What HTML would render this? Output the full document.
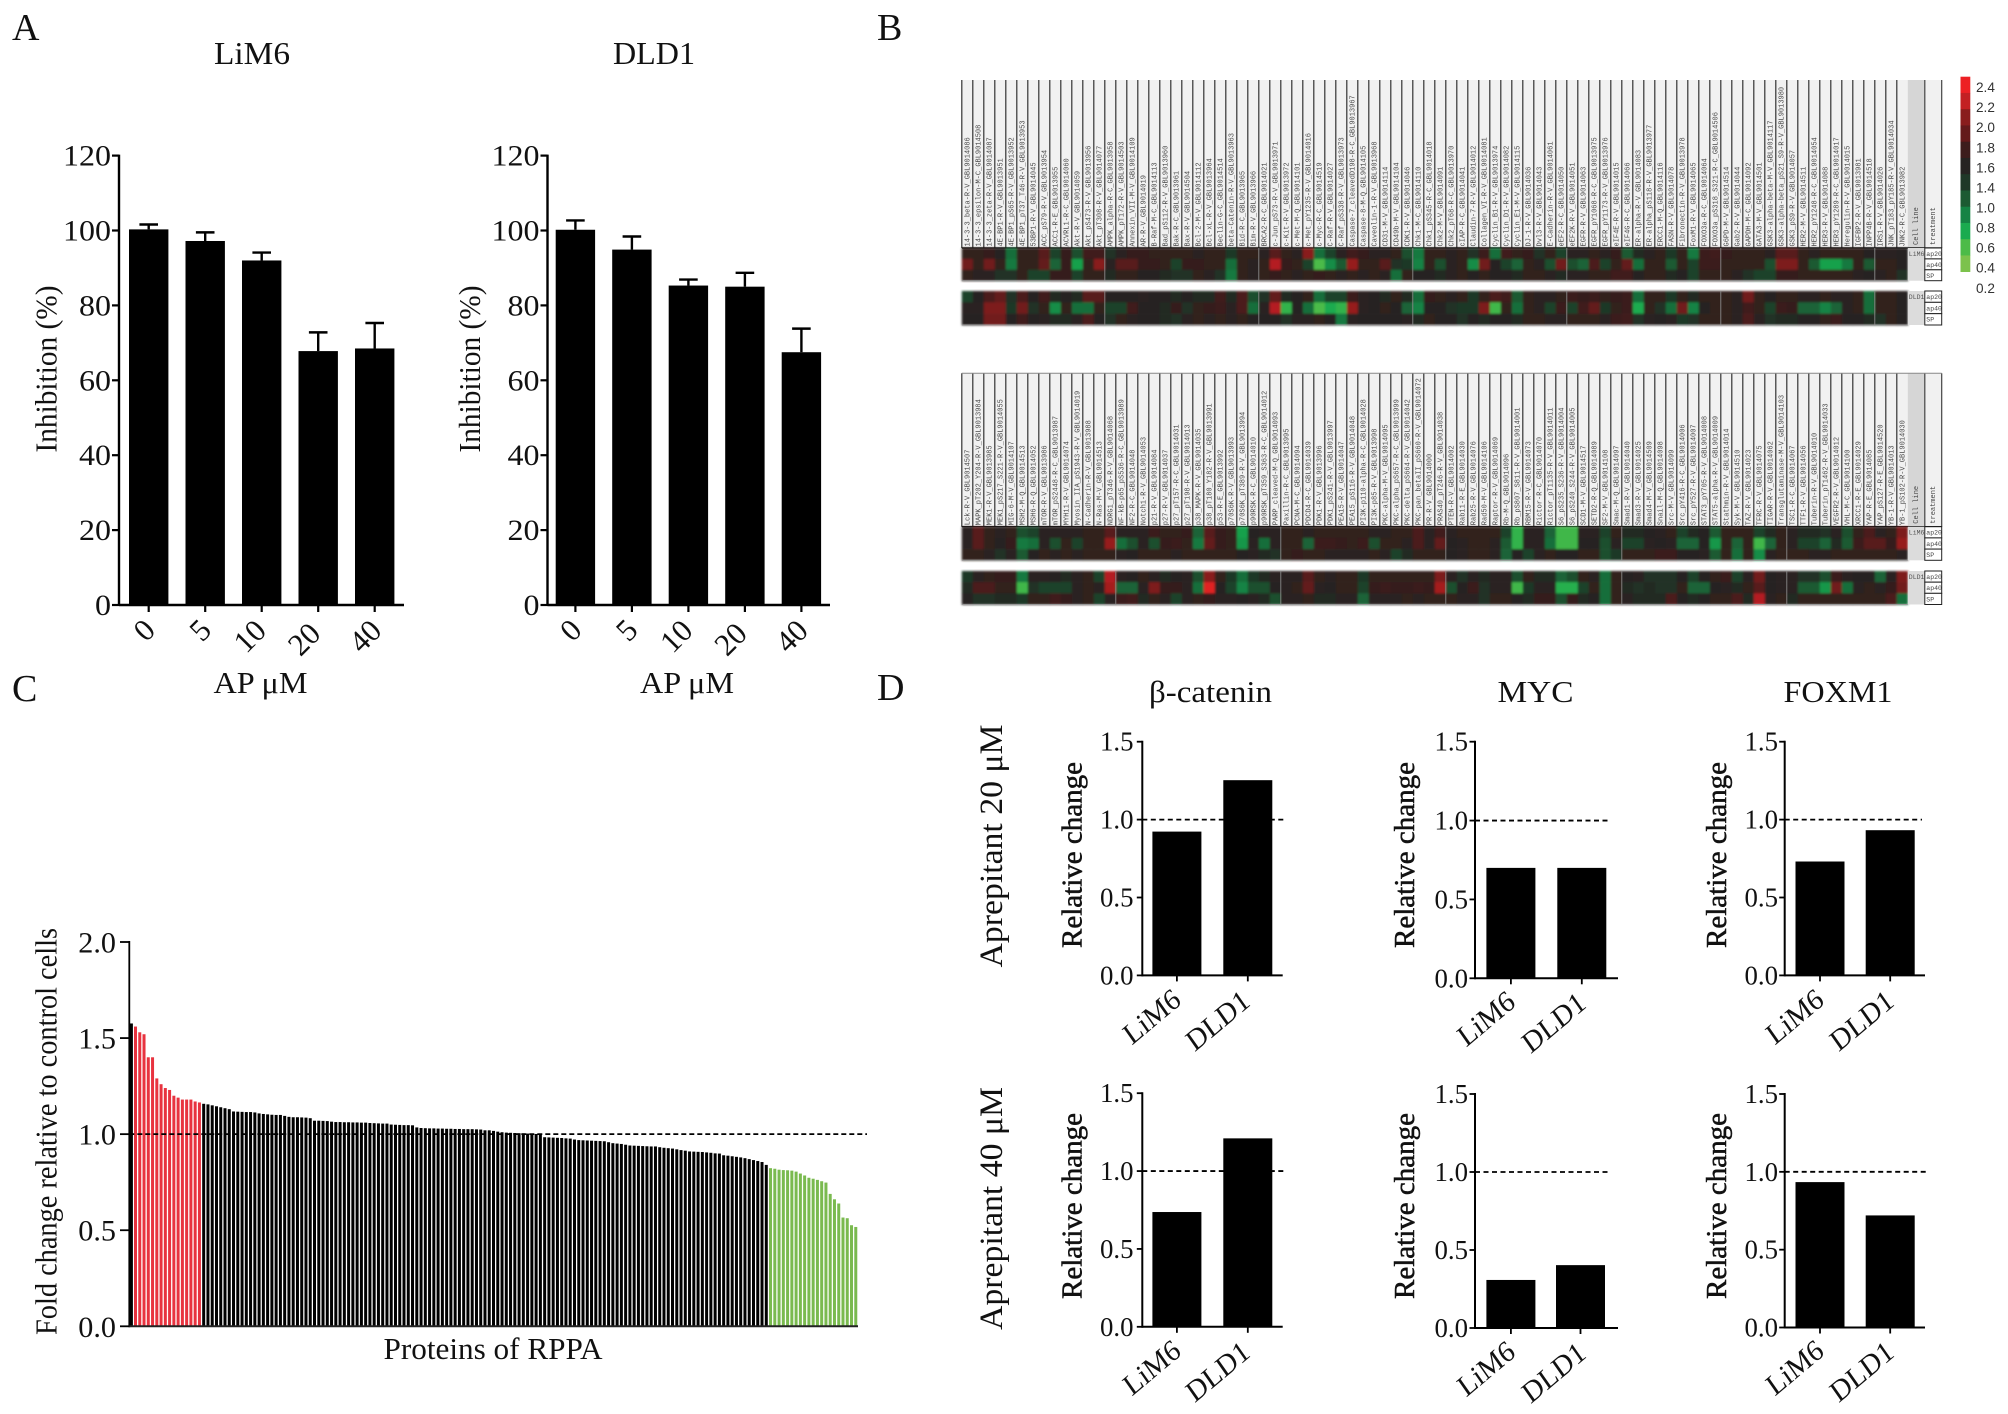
<!DOCTYPE html>
<html lang="en">
<head>
<meta charset="utf-8">
<title>Aprepitant RPPA figure</title>
<style>
html,body{margin:0;padding:0;background:#fff;}
svg{display:block;}
text{font-family:"Liberation Serif",serif;fill:#111;}
.sans{font-family:"Liberation Sans",sans-serif;}
.mono{font-family:"Liberation Mono",monospace;}
</style>
</head>
<body>
<svg id="fig" xmlns="http://www.w3.org/2000/svg" width="2008" height="1414" viewBox="0 0 2008 1414">
<defs><filter id="soft" x="-2%" y="-5%" width="104%" height="110%"><feGaussianBlur stdDeviation="1"/></filter></defs>
<rect width="2008" height="1414" fill="#fff"/>
<text x="12" y="40" font-size="38">A</text>
<text x="877" y="40" font-size="38">B</text>
<text x="12" y="701" font-size="38">C</text>
<text x="877" y="700" font-size="38">D</text>

<text x="252" y="64" font-size="32" text-anchor="middle" textLength="76" lengthAdjust="spacingAndGlyphs">LiM6</text>
<text x="654" y="64" font-size="32" text-anchor="middle" textLength="82" lengthAdjust="spacingAndGlyphs">DLD1</text>
<text transform="translate(56.5,369) rotate(-90)" font-size="31" text-anchor="middle" textLength="167" lengthAdjust="spacingAndGlyphs">Inhibition (%)</text>
<text transform="translate(480,369) rotate(-90)" font-size="31" text-anchor="middle" textLength="167" lengthAdjust="spacingAndGlyphs">Inhibition (%)</text>
<text x="260.5" y="693" font-size="31" text-anchor="middle" textLength="94" lengthAdjust="spacingAndGlyphs">AP μM</text>
<text x="687" y="693" font-size="31" text-anchor="middle" textLength="94" lengthAdjust="spacingAndGlyphs">AP μM</text>

<text transform="translate(56.5,1131.5) rotate(-90)" font-size="31" text-anchor="middle" textLength="407" lengthAdjust="spacingAndGlyphs">Fold change relative to control cells</text>
<text x="493" y="1359" font-size="31" text-anchor="middle" textLength="219" lengthAdjust="spacingAndGlyphs">Proteins of RPPA</text>

<text x="1210.5" y="702" font-size="31" text-anchor="middle" textLength="123" lengthAdjust="spacingAndGlyphs">β-catenin</text>
<text x="1535.5" y="702" font-size="31" text-anchor="middle" textLength="76" lengthAdjust="spacingAndGlyphs">MYC</text>
<text x="1838" y="702" font-size="31" text-anchor="middle" textLength="109" lengthAdjust="spacingAndGlyphs">FOXM1</text>
<text transform="translate(1002,846) rotate(-90)" font-size="33" text-anchor="middle" textLength="243" lengthAdjust="spacingAndGlyphs">Aprepitant 20 μM</text>
<text transform="translate(1002,1208.5) rotate(-90)" font-size="33" text-anchor="middle" textLength="243" lengthAdjust="spacingAndGlyphs">Aprepitant 40 μM</text>
<g id="layer"></g>
</svg>
<script>
/* ---------- Panel A data ---------- */
const doseLabels = ["0","5","10","20","40"];
const inhibitionTicks = [0,20,40,60,80,100,120];
const lim6Inhibition = [100.3,97.2,92,67.8,68.5];
const lim6ErrorTop = [101.6,99.5,94.1,72.8,75.3];
const dld1Inhibition = [100.2,94.9,85.3,85,67.5];
const dld1ErrorTop = [102.7,98.4,86.9,88.7,73.8];

/* ---------- Panel C data ---------- */
const foldTicks = [0,0.5,1,1.5,2];
const rppaLeadBar = [1.576];
const rppaUp = [1.56,1.53,1.52,1.40,1.40,1.29,1.26,1.24,1.23,1.20,1.19,1.18,1.18,1.18,1.17,1.165];
const rppaMid = [1.158,1.155,1.15,1.145,1.14,1.135,1.13,1.118,1.117,1.116,
1.115,1.115,1.113,1.108,1.105,1.103,1.101,1.1,1.1,1.095,
1.09,1.088,1.088,1.087,1.086,1.083,1.07,1.07,1.069,1.068,
1.065,1.063,1.063,1.062,1.062,1.061,1.061,1.06,1.06,1.058,
1.057,1.056,1.055,1.055,1.05,1.049,1.048,1.047,1.047,1.046,
1.035,1.032,1.031,1.03,1.03,1.029,1.029,1.028,1.028,1.027,
1.027,1.026,1.026,1.026,1.025,1.024,1.02,1.02,1.017,1.013,
1.01,1.008,1.007,1.006,1.005,1.004,1.003,1.002,1.001,0.997,
0.984,0.983,0.982,0.981,0.98,0.978,0.977,0.972,0.969,0.968,
0.967,0.966,0.965,0.964,0.963,0.958,0.953,0.951,0.949,0.945,
0.941,0.94,0.939,0.938,0.937,0.936,0.936,0.932,0.929,0.927,
0.925,0.921,0.917,0.914,0.91,0.909,0.908,0.907,0.905,0.903,
0.9,0.899,0.89,0.888,0.885,0.882,0.879,0.875,0.87,0.865,
0.86,0.855,0.84];
const rppaDown = [0.823,0.82,0.815,0.813,0.812,0.81,0.805,0.795,0.785,0.773,0.768,0.762,0.755,0.748,0.689,0.661,0.639,0.566,0.5625,0.526,0.517];

/* ---------- Panel D data ---------- */
const cellLines = ["LiM6","DLD1"];
const relativeTicks = [0,0.5,1,1.5];
const betaCatenin20 = [0.923,1.253];
const myc20 = [0.70,0.70];
const foxm120 = [0.731,0.932];
const betaCatenin40 = [0.737,1.21];
const myc40 = [0.308,0.403];
const foxm140 = [0.934,0.72];

/* ---------- Panel B data ---------- */
const legendLabels = ["2.4","2.2","2.0","1.8","1.6","1.4","1.0","0.8","0.6","0.4","0.2"];
const legendLevels = [2.4,2.25,2.05,1.9,1.72,1.5,1.35,1.2,1.0,0.8,0.6,0.4];
const proteinsTop = ["14-3-3_beta-R-V_GBL9014086","14-3-3_epsilon-M-C_GBL9014508","14-3-3_zeta-R-V_GBL9014087","4E-BP1-R-V_GBL9013951","4E-BP1_pS65-R-V_GBL9013952","4E-BP1_pT37_T46-R-V_GBL9013953","53BP1-R-V_GBL9014045","ACC_pS79-R-V_GBL9013954","ACC1-R-E_GBL9013955","ACVRL1-R-C_GBL9014060","Akt-R-V_GBL9014059","Akt_pS473-R-V_GBL9013956","Akt_pT308-R-V_GBL9014077","AMPK_alpha-R-C_GBL9013958","AMPK_pT172-R-V_GBL9014503","Annexin_VII-M-V_GBL9014109","AR-R-V_GBL9014019","B-Raf-M-C_GBL9014113","Bad_pS112-R-V_GBL9013960","Bak-R-C_GBL9013961","Bax-R-V_GBL9014504","Bcl-2-M-V_GBL9014112","Bcl-xL-R-V_GBL9013964","Beclin-G-C_GBL9014514","beta-Catenin-R-V_GBL9013963","Bid-R-C_GBL9013965","Bim-R-V_GBL9013966","BRCA2-R-C_GBL9014021","c-Jun_pS73-R-V_GBL9013971","c-Kit-R-V_GBL9013972","c-Met-M-Q_GBL9014101","c-Met_pY1235-R-V_GBL9014016","c-Myc-R-C_GBL9014519","C-Raf-R-V_GBL9014027","C-Raf_pS338-R-V_GBL9013973","Caspase-7_cleavedD198-R-C_GBL9013967","Caspase-8-M-Q_GBL9014105","Caveolin-1-R-V_GBL9013968","CD31-M-V_GBL9014114","CD49b-M-V_GBL9014104","CDK1-R-V_GBL9014046","Chk1-M-C_GBL9014110","Chk1_pS345-R-C_GBL9014018","Chk2-M-V_GBL9014091","Chk2_pT68-R-C_GBL9013970","cIAP-R-C_GBL9014041","Claudin-7-R-V_GBL9014012","Collagen_VI-R-V_GBL9014081","Cyclin_B1-R-V_GBL9013974","Cyclin_D1-R-V_GBL9014082","Cyclin_E1-M-V_GBL9014115","DJ-1-R-V_GBL9014036","Dvl3-R-V_GBL9014043","E-Cadherin-R-V_GBL9014061","eEF2-R-C_GBL9014050","eEF2K-R-V_GBL9014051","EGFR-R-V_GBL9014063","EGFR_pY1068-R-C_GBL9013975","EGFR_pY1173-R-V_GBL9013976","eIF4E-R-V_GBL9014015","eIF4G-R-C_GBL9014066","ER-alpha-R-V_GBL9014083","ER-alpha_pS118-R-V_GBL9013977","ERCC1-M-Q_GBL9014116","FASN-R-V_GBL9014078","Fibronectin-R-V_GBL9013978","FoxM1-R-V_GBL9014065","FOXO3a-R-C_GBL9014064","FOXO3a_pS318_S321-R-C_GBL9014506","G6PD-M-V_GBL9014514","Gab2-R-V_GBL9014044","GAPDH-M-C_GBL9014092","GATA3-M-V_GBL9014501","GSK3-alpha-beta-M-V_GBL9014117","GSK3-alpha-beta_pS21_S9-R-V_GBL9013980","GSK3_pS9-R-V_GBL9014057","HER2-M-V_GBL9014511","HER2_pY1248-R-C_GBL9014054","HER3-R-V_GBL9014088","HER3_pY1289-R-C_GBL9014017","Heregulin-R-V_GBL9014015","IGFBP2-R-V_GBL9013981","INPP4B-R-V_GBL9014518","IRS1-R-V_GBL9014026","JNK_pT183_pY185-R-V_GBL9014034","JNK2-R-C_GBL9013982"];
const proteinsBottom = ["Lck-R-V_GBL9014507","MAPK_pT202_Y204-R-V_GBL9013984","MEK1-R-V_GBL9013985","MEK1_pS217_S221-R-V_GBL9014055","MIG-6-M-V_GBL9014107","MSH2-M-Q_GBL9014513","MSH6-R-Q_GBL9014052","mTOR-R-V_GBL9013986","mTOR_pS2448-R-C_GBL9013987","MYH11-R-V_GBL9014074","Myosin_IIA_pS1943-R-V_GBL9014019","N-Cadherin-R-V_GBL9013988","N-Ras-M-V_GBL9014513","NDRG1_pT346-R-V_GBL9014068","NF-kB-p65_pS536-R-C_GBL9013989","NF2-R-C_GBL9014048","Notch1-R-V_GBL9014053","p21-R-V_GBL9014084","p27-R-V_GBL9014037","p27_pT157-R-C_GBL9014031","p27_pT198-R-V_GBL9014013","p38_MAPK-R-V_GBL9014035","p38_pT180_Y182-R-V_GBL9013991","p53-R-E_GBL9013992","p70S6K-R-V_GBL9013993","p70S6K_pT389-R-V_GBL9013994","p90RSK-R-C_GBL9014010","p90RSK_pT359_S363-R-C_GBL9014012","PARP_cleaved-M-Q_GBL9014093","Paxillin-R-C_GBL9013995","PCNA-M-C_GBL9014094","PDCD4-R-C_GBL9014039","PDK1-R-V_GBL9013996","PDK1_pS241-R-V_GBL9013997","PEA15-R-V_GBL9014047","PEA15_pS116-R-V_GBL9014048","PI3K-p110-alpha-R-C_GBL9014028","PI3K-p85-R-V_GBL9013998","PKC-alpha-M-V_GBL9014095","PKC-alpha_pS657-R-C_GBL9013999","PKC-delta_pS664-R-V_GBL9014042","PKC-pan_betaII_pS660-R-V_GBL9014072","PR-R-V_GBL9014000","PRAS40_pT246-R-V_GBL9014038","PTEN-R-V_GBL9014002","Rab11-R-E_GBL9014030","Rab25-R-V_GBL9014076","Rad50-M-V_GBL9014106","Raptor-R-V_GBL9014069","Rb-M-Q_GBL9014096","Rb_pS807_S811-R-V_GBL9014001","RBM15-R-V_GBL9014073","Rictor-R-C_GBL9014070","Rictor_pT1135-R-V_GBL9014011","S6_pS235_S236-R-V_GBL9014004","S6_pS240_S244-R-V_GBL9014005","SCD1-M-V_GBL9014517","SETD2-R-Q_GBL9014089","SF2-M-V_GBL9014108","Smac-M-Q_GBL9014097","Smad1-R-V_GBL9014040","Smad3-R-V_GBL9014025","Smad4-M-V_GBL9014509","Snail-M-Q_GBL9014098","Src-M-V_GBL9014099","Src_pY416-R-C_GBL9014006","Src_pY527-R-V_GBL9014007","STAT3_pY705-R-V_GBL9014008","STAT5-alpha-R-V_GBL9014009","Stathmin-R-V_GBL9014014","Syk-M-V_GBL9014510","TAZ-R-V_GBL9014023","TFRC-R-V_GBL9014075","TIGAR-R-V_GBL9014062","Transglutaminase-M-V_GBL9014103","TSC1-R-C_GBL9014067","TTF1-R-V_GBL9014056","Tuberin-R-V_GBL9014010","Tuberin_pT1462-R-V_GBL9014033","VEGFR2-R-V_GBL9014012","VHL-M-C_GBL9014100","XRCC1-R-E_GBL9014029","YAP-R-E_GBL9014085","YAP_pS127-R-E_GBL9014520","YB-1-R-V_GBL9014013","YB-1_pS102-R-V_GBL9014030"];

const heatLim6Top = [
[1.6,1.6,1.65,1.5,1.1,1.6,1.6,1.85,1.3,1.65,1.25,1.75,1.75,1.4,1.55,1.65,1.65,1.6,1.6,1.6,1.6,1.55,1.6,1.6,1.35,1.6,1.6,1.55,1.85,1.6,1.55,2.05,1.1,1.3,1.55,1.75,1.65,1.55,1.55,1.6,1.25,1.05,1.6,1.6,1.55,1.6,1.4,1.7,1.1,1.75,1.6,1.65,1.4,1.6,1.3,1.55,1.55,1.6,1.55,1.65,1.2,1.45,1.55,1.6,1.35,1.6,1.05,1.7,1.75,1.65,1.6,1.6,1.6,1.55,1.85,1.85,1.6,1.55,1.6,1.6,1.6,1.6,1.5,1.55,1.55,1.5],
[1.95,1.6,1.95,1.6,1.05,1.6,1.6,1.9,1.15,1.65,0.85,1.6,2.05,1.55,1.85,1.85,1.65,1.65,1.6,1.3,1.65,1.65,1.6,1.6,1.1,1.6,1.55,1.6,2.2,1.65,1.6,1.3,0.6,0.95,1.2,2.1,1.6,1.6,1.85,1.4,1.35,1.0,1.6,1.25,1.55,1.6,0.95,1.95,1.5,1.3,1.15,1.6,1.55,1.25,1.95,1.25,1.15,1.8,1.3,1.6,1.9,1.1,1.6,1.6,1.2,1.6,1.3,1.7,1.7,1.6,1.6,1.6,1.6,1.25,2.0,2.0,1.6,1.2,0.85,0.85,1.05,1.6,1.2,1.6,1.6,1.5],
[1.6,1.55,1.55,1.4,1.4,1.6,1.3,1.3,1.65,1.65,1.3,1.6,1.6,1.45,1.6,1.6,1.5,1.5,1.45,1.4,1.4,1.6,1.55,1.4,1.05,1.6,1.55,1.6,1.65,1.6,1.55,1.6,1.65,1.6,1.55,1.6,1.55,1.6,1.55,1.1,1.6,1.5,1.5,1.45,1.55,1.6,1.5,1.6,1.5,1.5,1.45,1.6,1.6,1.55,1.45,1.55,1.55,1.6,1.6,1.75,1.75,1.5,1.6,1.6,1.45,1.5,1.3,1.6,1.6,1.6,1.55,1.4,1.3,1.3,1.65,1.65,1.6,1.6,1.6,1.6,1.6,1.55,1.5,1.55,1.6,1.4]
];
const heatDld1Top = [
[1.3,1.5,1.8,1.9,1.4,1.8,1.5,1.75,1.45,1.5,1.45,1.85,1.85,1.5,1.5,1.5,1.55,1.5,1.5,1.45,1.5,1.45,1.45,1.75,1.45,1.8,1.25,1.4,1.9,1.45,1.5,1.6,1.1,1.3,1.3,1.7,1.55,1.5,1.45,1.6,1.45,1.1,1.65,1.6,1.55,1.6,1.35,1.6,1.8,1.75,1.2,1.6,1.55,1.55,1.6,1.7,1.65,1.7,1.6,1.65,1.7,1.1,1.6,1.6,1.35,1.6,1.45,1.6,1.6,1.6,1.55,1.95,1.6,1.5,1.6,1.6,1.55,1.55,1.6,1.55,1.55,1.6,1.1,1.6,1.6,1.5],
[1.55,1.55,2.0,2.0,1.35,1.95,1.4,1.6,0.95,1.6,1.1,1.1,1.6,1.3,1.3,1.75,1.5,1.5,1.45,1.65,1.4,1.6,1.65,1.7,1.55,1.8,1.1,1.55,2.2,0.7,1.5,1.1,0.6,0.8,0.7,2.1,1.55,1.5,1.6,1.5,1.15,1.0,1.5,1.5,1.4,1.35,1.35,2.0,0.65,1.6,1.1,1.6,1.55,1.3,1.7,1.3,1.75,1.9,1.35,1.6,1.7,0.8,1.6,1.4,1.1,1.95,1.0,1.5,1.6,1.6,1.55,1.75,1.6,1.3,1.7,1.65,1.15,1.15,1.0,1.15,1.55,1.6,1.1,1.6,1.6,1.5],
[1.5,1.5,1.95,1.95,1.5,1.75,1.5,1.55,1.45,1.45,1.55,1.8,1.5,1.4,1.6,1.55,1.5,1.5,1.45,1.4,1.55,1.6,1.55,1.6,1.55,1.6,1.5,1.5,1.5,1.4,1.55,1.55,1.6,1.5,1.05,1.55,1.5,1.5,1.5,1.5,1.55,1.45,1.6,1.5,1.5,1.4,1.5,1.45,1.5,1.5,1.45,1.6,1.6,1.55,1.55,1.6,1.6,1.6,1.55,1.7,1.75,1.4,1.55,1.5,1.55,1.35,1.4,1.6,1.6,1.6,1.55,1.8,1.55,1.4,1.45,1.45,1.5,1.5,1.6,1.7,1.5,1.5,1.45,1.4,1.6,1.5]
];
const heatLim6Bottom = [
[1.55,1.85,1.6,1.55,1.6,1.25,1.3,1.55,1.55,1.55,1.55,1.6,1.6,1.85,1.55,1.55,1.55,1.7,1.6,1.6,1.65,1.15,1.85,1.65,1.6,0.85,1.5,1.55,1.55,1.6,1.6,1.55,1.6,1.6,1.6,1.6,1.6,1.55,1.55,1.6,1.6,1.8,1.55,1.75,1.55,1.6,1.6,1.6,1.6,1.3,0.7,1.55,1.55,1.15,0.65,0.65,1.55,1.55,1.3,1.6,1.45,1.45,1.5,1.55,1.6,1.3,1.45,1.5,1.2,1.6,1.6,1.6,1.3,1.45,1.6,1.55,1.45,1.45,1.4,1.55,1.25,1.6,1.8,1.55,1.6,2.0],
[1.55,1.85,1.6,1.5,1.65,1.05,1.1,1.55,1.25,1.6,1.3,1.6,1.6,2.1,1.1,1.25,1.55,1.25,1.65,1.7,1.6,1.05,1.9,1.65,1.6,0.9,1.55,1.1,1.55,1.6,1.6,1.15,1.7,1.7,1.65,1.6,1.7,1.25,1.6,1.6,1.55,1.8,1.55,1.9,1.5,1.55,1.6,1.6,1.55,1.2,0.7,1.55,1.55,1.1,0.65,0.65,1.5,1.5,1.25,1.55,1.3,1.3,1.55,1.5,1.55,1.15,1.15,1.5,0.9,1.6,1.15,1.6,0.65,1.15,1.6,1.55,1.3,1.3,1.15,1.45,1.2,1.7,1.85,1.85,1.65,2.1],
[1.6,1.6,1.55,1.4,1.55,1.2,1.5,1.6,1.55,1.6,1.55,1.6,1.6,1.6,1.55,1.5,1.6,1.6,1.6,1.55,1.6,1.6,1.6,1.6,1.6,1.5,1.55,1.45,1.4,1.6,1.65,1.6,1.6,1.55,1.55,1.55,1.55,1.6,1.55,1.3,1.45,1.6,1.6,1.6,1.5,1.55,1.6,1.6,1.55,1.15,1.5,1.3,1.55,1.6,1.5,1.5,1.6,1.6,1.25,1.35,1.6,1.6,1.6,1.7,1.7,1.5,1.5,1.55,1.2,1.6,1.1,1.6,0.95,1.55,1.6,1.6,1.6,1.55,1.55,1.6,1.6,1.6,1.6,1.6,1.6,1.55]
];
const heatDld1Bottom = [
[1.35,1.55,1.6,1.65,1.65,1.05,1.55,1.55,1.5,1.45,1.55,1.6,1.3,2.2,1.55,1.5,1.6,1.55,1.45,1.5,1.55,1.25,2.05,1.6,1.35,1.1,1.35,1.45,1.55,1.55,1.55,1.85,1.6,1.55,1.6,1.6,1.35,1.6,1.6,1.6,1.6,1.6,1.6,2.0,1.55,1.4,1.55,1.45,1.55,1.55,1.25,1.6,1.45,1.45,1.15,1.25,1.6,1.55,1.1,1.6,1.5,1.55,1.4,1.4,1.4,1.5,1.3,1.5,1.6,1.7,1.3,1.55,1.95,1.5,1.55,1.55,1.4,1.4,1.25,1.7,1.55,1.5,1.5,1.15,1.55,2.0],
[1.45,1.8,1.8,1.6,1.6,0.65,1.4,1.3,1.3,1.3,1.55,1.6,1.55,2.15,1.15,1.15,1.55,2.0,1.65,1.65,1.55,1.1,2.35,1.5,1.3,1.0,1.25,1.25,1.5,1.55,1.6,1.9,1.55,1.5,1.6,1.6,1.3,1.65,1.7,1.65,1.65,1.7,1.65,2.15,1.25,1.5,1.7,1.4,1.55,1.55,0.65,1.35,1.55,1.55,0.75,0.75,1.3,1.6,1.1,1.6,1.45,1.4,1.45,1.4,1.4,1.6,1.15,1.15,1.5,1.55,1.45,1.6,1.85,1.5,1.55,1.55,1.2,1.2,0.9,1.95,1.1,1.55,1.6,1.55,1.65,1.95],
[1.5,1.4,1.4,1.45,1.45,1.35,1.6,1.6,1.75,1.65,1.55,1.6,1.3,1.55,1.7,1.75,1.45,1.6,1.55,1.3,1.55,1.6,1.65,1.55,1.55,1.5,1.55,1.45,1.25,1.55,1.55,1.6,1.45,1.45,1.55,1.55,1.15,1.55,1.55,1.55,1.6,1.55,1.6,1.6,1.6,1.55,1.55,1.4,1.6,1.6,1.5,1.45,1.65,1.65,1.25,1.65,1.45,1.5,1.1,1.6,1.55,1.45,1.45,1.45,1.8,1.5,1.45,1.5,1.6,1.6,1.8,1.45,2.2,1.55,1.6,1.45,1.6,1.6,1.6,1.6,1.6,1.6,1.6,1.6,1.8,1.1]
];

/* ---------- helpers ---------- */
const NS = "http://www.w3.org/2000/svg";
const layer = document.getElementById("layer");
function node(parent, tag, attrs, txt){
  const el = document.createElementNS(NS, tag);
  for (const k in attrs) el.setAttribute(k, attrs[k]);
  if (txt !== undefined) el.textContent = txt;
  parent.appendChild(el);
  return el;
}
function linearScale(d0, d1, r0, r1){
  return function(v){ return r0 + (v - d0) * (r1 - r0) / (d1 - d0); };
}

/* ---------- Panel A ---------- */
function drawDosePanel(name, axisX, axisEnd, barLefts, values, errTop, labelCenters){
  const y = linearScale(0, 120, 605, 155.6);
  const g = node(layer, "g", {});
  
  
  const barW = 39.4;
  values.forEach(function(v, i){
    const xl = barLefts(i);
    const cx = xl + barW / 2;
    const stem = node(g, "line", {x1:cx, x2:cx, y1:y(v), y2:y(errTop[i]), stroke:"#000", "stroke-width":2.4});
    
    
    const cap = node(g, "line", {x1:cx-9.3, x2:cx+9.3, y1:y(errTop[i]), y2:y(errTop[i]), stroke:"#000", "stroke-width":2.4});
    
    
    const bar = node(g, "rect", {x:xl, y:y(v), width:barW, height:y(0)-y(v), fill:"#000"});
    
    
    const tick = node(g, "line", {x1:cx, x2:cx, y1:y(0), y2:y(0)+7, stroke:"#000", "stroke-width":2.2});
    
    
    const lc = labelCenters(i);
    const lab = node(g, "text", {transform:"translate("+lc[0]+","+lc[1]+") rotate(-45)", "font-size":31, "text-anchor":"middle", "dominant-baseline":"central"}, doseLabels[i]);
    
    
  });
  const yAxis = node(g, "line", {x1:axisX, x2:axisX, y1:y(120)-1, y2:y(0)+1, stroke:"#000", "stroke-width":2.4});
  
  
  const xAxis = node(g, "line", {x1:axisX, x2:axisEnd, y1:y(0), y2:y(0), stroke:"#000", "stroke-width":2.4});
  
  
  inhibitionTicks.forEach(function(t){
    const tk = node(g, "line", {x1:axisX-7, x2:axisX, y1:y(t), y2:y(t), stroke:"#000", "stroke-width":2.2});
    
    
    const s = String(t);
    const lb = node(g, "text", {x:axisX-8, y:y(t)+10, "font-size":30, "text-anchor":"end", textLength:16*s.length, lengthAdjust:"spacingAndGlyphs"}, s);
    
    
  });
}
const doseLabelOffsets = [[0,0],[56,0],[105.6,6],[160,9],[221,6]];
drawDosePanel("lim6-inhibition-chart", 119, 404, function(i){return 129 + i*56.5;}, lim6Inhibition, lim6ErrorTop,
  function(i){return [144+doseLabelOffsets[i][0], 630+doseLabelOffsets[i][1]];});
drawDosePanel("dld1-inhibition-chart", 547.5, 830, function(i){return 555.7 + i*56.5;}, dld1Inhibition, dld1ErrorTop,
  function(i){return [570.5+doseLabelOffsets[i][0], 630+doseLabelOffsets[i][1]];});

/* ---------- Panel C ---------- */
(function(){
  const y = linearScale(0, 2, 1326.3, 942);
  const x = function(i){ return 134 + 4.262 * i; };
  const g = node(layer, "g", {});
  
  
  const lead = node(g, "rect", {x:129.3, y:y(rppaLeadBar[0]), width:3.6, height:y(0)-y(rppaLeadBar[0]), fill:"#000"});
  
  
  rppaUp.forEach(function(v, i){
    const b = node(g, "rect", {x:x(i), y:y(v), width:3, height:y(0)-y(v), fill:"#e8333f"});
    
    
  });
  rppaMid.forEach(function(v, i){
    const b = node(g, "rect", {x:x(i+rppaUp.length), y:y(v), width:3, height:y(0)-y(v), fill:"#000"});
    
    
  });
  rppaDown.forEach(function(v, i){
    const b = node(g, "rect", {x:x(i+rppaUp.length+rppaMid.length), y:y(v), width:3, height:y(0)-y(v), fill:"#7aba4f"});
    
    
  });
  const dash = node(g, "line", {x1:129.3, x2:867, y1:y(1), y2:y(1), stroke:"#000", "stroke-width":1.8, "stroke-dasharray":"5 3"});
  
  
  const yAxis = node(g, "line", {x1:129.3, x2:129.3, y1:y(2)-1, y2:y(0)+1, stroke:"#000", "stroke-width":1.8});
  
  
  const xAxis = node(g, "line", {x1:129.3, x2:858, y1:y(0), y2:y(0), stroke:"#222", "stroke-width":2});
  
  
  foldTicks.forEach(function(t){
    const tk = node(g, "line", {x1:120, x2:129.3, y1:y(t), y2:y(t), stroke:"#000", "stroke-width":1.8});
    
    
    const lb = node(g, "text", {x:116, y:y(t)+10.5, "font-size":30, "text-anchor":"end", textLength:37.7, lengthAdjust:"spacingAndGlyphs"}, t.toFixed(1));
    
    
  });
})();

/* ---------- Panel D ---------- */
function drawRelativePanel(name, axisX, axisEnd, top, zero, barLefts, dashEnd, labelRight, titleX, titleY, catCenters, values){
  const y = linearScale(0, 1.5, zero, top);
  const g = node(layer, "g", {});
  
  
  const barW = 49;
  values.forEach(function(v, i){
    const b = node(g, "rect", {x:barLefts[i], y:y(v), width:barW, height:y(0)-y(v), fill:"#000"});
    
    
    const cx = barLefts[i] + barW/2;
    const tk = node(g, "line", {x1:cx, x2:cx, y1:y(0), y2:y(0)+6, stroke:"#000", "stroke-width":1.8});
    
    
    const lb = node(g, "text", {transform:"translate("+catCenters[i][0]+","+catCenters[i][1]+") rotate(-40) skewX(-5)", "font-size":29, "text-anchor":"middle", "dominant-baseline":"central"}, cellLines[i]);
    
    
  });
  const dash = node(g, "line", {x1:axisX, x2:dashEnd, y1:y(1), y2:y(1), stroke:"#000", "stroke-width":1.8, "stroke-dasharray":"5 3.5"});
  
  
  const yAxis = node(g, "line", {x1:axisX, x2:axisX, y1:y(1.5)-1, y2:y(0)+1, stroke:"#000", "stroke-width":2});
  
  
  const xAxis = node(g, "line", {x1:axisX, x2:axisEnd, y1:y(0), y2:y(0), stroke:"#000", "stroke-width":2});
  
  
  relativeTicks.forEach(function(t){
    const tk = node(g, "line", {x1:axisX-5.5, x2:axisX, y1:y(t), y2:y(t), stroke:"#000", "stroke-width":1.8});
    
    
    const lb = node(g, "text", {x:labelRight, y:y(t)+9, "font-size":27, "text-anchor":"end", textLength:33.5, lengthAdjust:"spacingAndGlyphs"}, t.toFixed(1));
    
    
  });
  const yt = node(g, "text", {transform:"translate("+titleX+","+titleY+") rotate(-90)", "font-size":28, "text-anchor":"middle", textLength:186, lengthAdjust:"spacingAndGlyphs", stroke:"#111", "stroke-width":0.5}, "Relative change");
  
  
}
drawRelativePanel("beta-catenin-20-chart", 1142.3, 1282.7, 741.7, 975.4, [1152.4,1223.3], 1285, 1133.5, 1081.6, 855, [[1152,1017],[1218,1021]], betaCatenin20);
drawRelativePanel("myc-20-chart", 1475, 1618, 741.7, 978.3, [1486.4,1557.3], 1608, 1468, 1414, 855, [[1486.4,1019],[1554,1023]], myc20);
drawRelativePanel("foxm1-20-chart", 1784.7, 1925, 741.7, 975.4, [1795.5,1865.7], 1922, 1778, 1726, 855, [[1795,1017],[1862,1021]], foxm120);
drawRelativePanel("beta-catenin-40-chart", 1142.3, 1282.7, 1093.2, 1326.8, [1152.4,1223.3], 1285, 1133.5, 1081.6, 1206, [[1152,1368],[1218,1372]], betaCatenin40);
drawRelativePanel("myc-40-chart", 1475, 1618, 1094, 1328, [1486.4,1556], 1610, 1468, 1414, 1206, [[1486.4,1369],[1554,1373]], myc40);
drawRelativePanel("foxm1-40-chart", 1784.7, 1925, 1094, 1327.5, [1795.5,1865.7], 1927, 1778, 1726, 1206, [[1795,1368],[1862,1372]], foxm140);

/* ---------- Panel B ---------- */
const colorStops = [[0.4,124,194,76],[0.6,76,187,72],[0.8,26,171,79],[1.0,21,131,68],[1.2,28,90,50],[1.35,31,56,40],[1.5,38,36,34],[1.6,48,32,30],[1.75,64,28,28],[1.9,100,26,27],[2.1,150,30,30],[2.3,210,32,36],[2.4,237,32,36]];
function heatColor(v){
  if (v <= colorStops[0][0]) return "rgb("+colorStops[0].slice(1).join(",")+")";
  for (let i = 1; i < colorStops.length; i++){
    const a = colorStops[i-1], b = colorStops[i];
    if (v <= b[0]){
      const t = (v-a[0])/(b[0]-a[0]);
      return "rgb("+[1,2,3].map(function(k){return Math.round(a[k]+(b[k]-a[k])*t);}).join(",")+")";
    }
  }
  return "rgb(237,32,36)";
}
const HEAT_LEFT = 961.8, CELL_W = 11.0;
function colX(c){ return HEAT_LEFT + CELL_W * c; }
function drawHeader(name, labels, top, bottom, topLine){
  const g = node(layer, "g", {});
  
  
  const bg = node(g, "rect", {x:HEAT_LEFT, y:top, width:colX(labels.length)-HEAT_LEFT+34, height:bottom-top, fill:"#f1f1f1"});
  
  
  const cl = node(g, "rect", {x:colX(labels.length), y:top, width:17, height:bottom-top, fill:"#d6d6d6"});
  
  
  labels.forEach(function(s, c){
    const sep = node(g, "line", {x1:colX(c), x2:colX(c), y1:top, y2:bottom, stroke:"#333", "stroke-width":1.2});
    
    
    const t = node(g, "text", {class:"mono", transform:"translate("+(colX(c)+7.6)+","+(bottom-1.5)+") rotate(-90)", "font-size":7, style:"fill:#4a4a4a"}, s);
    
    
  });
  const x0 = colX(labels.length);
  const t1 = node(g, "text", {class:"mono", transform:"translate("+(x0+10)+","+(bottom-3)+") rotate(-90)", "font-size":7, style:"fill:#4a4a4a"}, "Cell line");
  
  
  const t2 = node(g, "text", {class:"mono", transform:"translate("+(x0+27)+","+(bottom-3)+") rotate(-90)", "font-size":7, style:"fill:#4a4a4a"}, "treatment");
  
  
  [x0+17, x0+33.9].forEach(function(xx){
    const sep = node(g, "line", {x1:xx, x2:xx, y1:top, y2:bottom, stroke:"#444", "stroke-width":1.2});
    
    
  });
  if (topLine){
    const tl = node(g, "line", {x1:HEAT_LEFT, x2:x0+33.9, y1:top, y2:top, stroke:"#888", "stroke-width":1});
    
    
  }
  const bl = node(g, "line", {x1:HEAT_LEFT, x2:x0+33.9, y1:bottom, y2:bottom, stroke:"#111", "stroke-width":1.4});
  
  
}
function drawStrip(name, rows, top, bottom, dividers, cellLine){
  const g = node(layer, "g", {});
  
  
  const cells = node(g, "g", {filter:"url(#soft)"});
  
  
  const rowH = (bottom-top)/rows.length;
  rows.forEach(function(row, r){
    row.forEach(function(v, c){
      const cell = node(cells, "rect", {x:colX(c), y:top+r*rowH, width:CELL_W+0.3, height:rowH+0.3, fill:heatColor(v)});
      
      
    });
  });
  const nCols = rows[0].length;
  const x0 = colX(nCols);
  dividers.forEach(function(c){
    const d = node(g, "line", {x1:colX(c), x2:colX(c), y1:top, y2:bottom, stroke:"#8a8a8a", "stroke-width":0.9});
    
    
  });
  const bb = node(g, "line", {x1:HEAT_LEFT, x2:x0, y1:bottom, y2:bottom, stroke:"#999", "stroke-width":1});
  
  
  const cb = node(g, "rect", {x:x0, y:top, width:17, height:bottom-top, fill:"#dcdcdc"});
  
  
  const ct = node(g, "text", {class:"mono", x:x0+1, y:top+8, "font-size":6.5, style:"fill:#555"}, cellLine);
  
  
  ["ap20","ap40","SP"].forEach(function(s, r){
    const box = node(g, "rect", {x:x0+17, y:top+r*rowH, width:16.9, height:rowH, fill:"#fff", stroke:"#222", "stroke-width":1});
    
    
    const t = node(g, "text", {class:"mono", x:x0+18.5, y:top+r*rowH+8, "font-size":6.5, style:"fill:#444"}, s);
    
    
  });
}
drawHeader("protein-header-top", proteinsTop, 80, 248, false);
drawStrip("heatmap-lim6-top", heatLim6Top, 248, 280.7, [13,27,41,55,69,83], "LiM6");
drawStrip("heatmap-dld1-top", heatDld1Top, 291, 325, [13,27,41,55,69,83], "DLD1");
drawHeader("protein-header-bottom", proteinsBottom, 373.3, 526.7, true);
drawStrip("heatmap-lim6-bottom", heatLim6Bottom, 526.7, 560.3, [14,29,44,60,75], "LiM6");
drawStrip("heatmap-dld1-bottom", heatDld1Bottom, 571, 604.5, [14,29,44,60,75], "DLD1");

(function(){
  const g = node(layer, "g", {});
  
  
  const top = 76.7, segH = (271.7-76.7)/legendLevels.length;
  legendLevels.forEach(function(v, i){
    const s = node(g, "rect", {x:1960.5, y:top+i*segH, width:9.8, height:segH+0.3, fill:heatColor(v)});
    
    
  });
  legendLabels.forEach(function(s, i){
    const t = node(g, "text", {class:"sans", x:1976, y:87.3+i*20.07+4.8, "font-size":13.6, style:'fill:#333;font-family:"Liberation Sans",sans-serif'}, s);
    
    
  });
})();
</script>
</body>
</html>
